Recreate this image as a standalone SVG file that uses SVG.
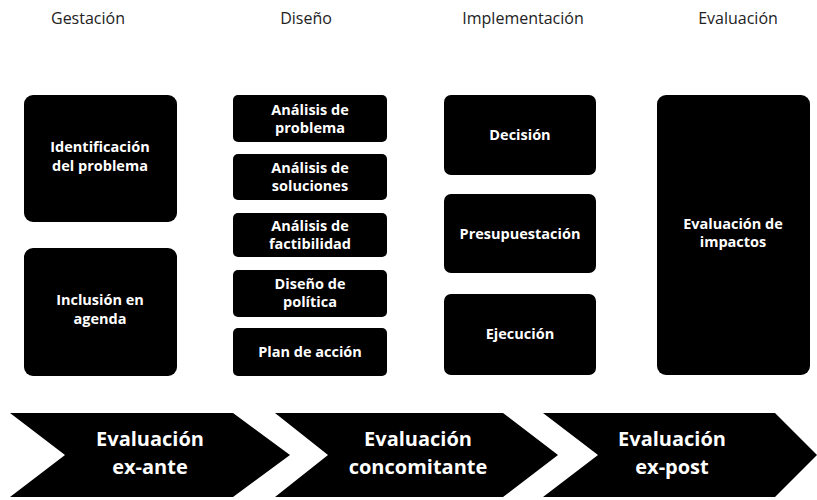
<svg xmlns="http://www.w3.org/2000/svg" width="817" height="500" viewBox="0 0 817 500">
  <style>
    .hdr { font-family: "Open Sans", "DejaVu Sans", sans-serif; font-size: 16px; fill: #222; text-anchor: middle; }
    .box { fill: #000; }
    .lbl { font-family: "Open Sans", "Liberation Sans", sans-serif; font-weight: bold; font-size: 14.5px; fill: #fff; text-anchor: middle; }
    .chev { fill: #000; }
    .big { font-family: "Open Sans", "Liberation Sans", sans-serif; font-weight: bold; font-size: 20px; fill: #fff; text-anchor: middle; }
  </style>
  <rect width="817" height="500" fill="#fff"/>

  <g id="headers">
    <text class="hdr" x="88" y="24">Gestación</text>
    <text class="hdr" x="306" y="24">Diseño</text>
    <text class="hdr" x="523" y="24">Implementación</text>
    <text class="hdr" x="738" y="24">Evaluación</text>
  </g>

  <g id="identificacion">
    <rect class="box" x="24" y="95" width="153" height="127" rx="9"/>
    <text class="lbl" x="100" y="152">Identificación</text>
    <text class="lbl" x="100" y="171">del problema</text>
  </g>
  <g id="inclusion">
    <rect class="box" x="24" y="248" width="153" height="128" rx="9"/>
    <text class="lbl" x="100" y="305">Inclusión en</text>
    <text class="lbl" x="100" y="324">agenda</text>
  </g>

  <g id="analisis-problema">
    <rect class="box" x="233" y="95" width="154" height="47" rx="5"/>
    <text class="lbl" x="310" y="115">Análisis de</text>
    <text class="lbl" x="310" y="133">problema</text>
  </g>
  <g id="analisis-soluciones">
    <rect class="box" x="233" y="154" width="154" height="46" rx="5"/>
    <text class="lbl" x="310" y="173">Análisis de</text>
    <text class="lbl" x="310" y="191">soluciones</text>
  </g>
  <g id="analisis-factibilidad">
    <rect class="box" x="233" y="213" width="154" height="44" rx="5"/>
    <text class="lbl" x="310" y="231">Análisis de</text>
    <text class="lbl" x="310" y="249">factibilidad</text>
  </g>
  <g id="diseno-politica">
    <rect class="box" x="233" y="270" width="154" height="47" rx="5"/>
    <text class="lbl" x="310" y="289">Diseño de</text>
    <text class="lbl" x="310" y="307">política</text>
  </g>
  <g id="plan-accion">
    <rect class="box" x="233" y="328" width="154" height="48" rx="5"/>
    <text class="lbl" x="310" y="357">Plan de acción</text>
  </g>

  <g id="decision">
    <rect class="box" x="444" y="95" width="152" height="80" rx="7"/>
    <text class="lbl" x="520" y="140">Decisión</text>
  </g>
  <g id="presupuestacion">
    <rect class="box" x="444" y="194" width="152" height="79" rx="7"/>
    <text class="lbl" x="520" y="239">Presupuestación</text>
  </g>
  <g id="ejecucion">
    <rect class="box" x="444" y="294" width="152" height="81" rx="7"/>
    <text class="lbl" x="520" y="339">Ejecución</text>
  </g>

  <g id="evaluacion-impactos">
    <rect class="box" x="657" y="95" width="153" height="280" rx="9"/>
    <text class="lbl" x="733" y="229">Evaluación de</text>
    <text class="lbl" x="733" y="247">impactos</text>
  </g>

  <g id="ex-ante">
    <polygon class="chev" points="10,413 233,413 290,455 233,497 10,497 65,455"/>
    <text class="big" x="150" y="446">Evaluación</text>
    <text class="big" x="150" y="474">ex-ante</text>
  </g>
  <g id="concomitante">
    <polygon class="chev" points="275,413 503,413 558,455 503,497 275,497 328,455"/>
    <text class="big" x="418" y="446">Evaluación</text>
    <text class="big" x="418" y="474">concomitante</text>
  </g>
  <g id="ex-post">
    <polygon class="chev" points="543,413 775,413 817,455 775,497 543,497 598,455"/>
    <text class="big" x="672" y="446">Evaluación</text>
    <text class="big" x="672" y="474">ex-post</text>
  </g>
</svg>
